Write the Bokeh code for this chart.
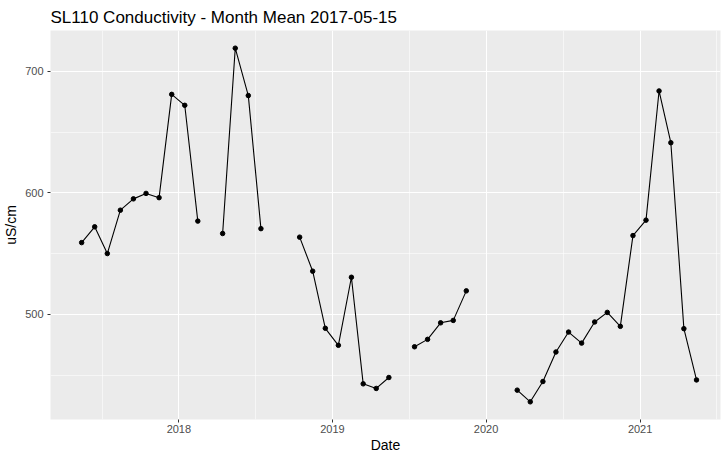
import pandas as pd
from bokeh.plotting import figure
from bokeh.models import ColumnDataSource, FixedTicker, DatetimeTickFormatter, Range1d
from bokeh.embed import file_html
from bokeh.resources import INLINE

# ---- data ----
dates = [
    "2017-05-15", "2017-06-15", "2017-07-15", "2017-08-15", "2017-09-15", "2017-10-15",
    "2017-11-15", "2017-12-15", "2018-01-15", "2018-02-15", "2018-03-15", "2018-04-15",
    "2018-05-15", "2018-06-15", "2018-07-15", "2018-08-15", "2018-09-15", "2018-10-15",
    "2018-11-15", "2018-12-15", "2019-01-15", "2019-02-15", "2019-03-15", "2019-04-15",
    "2019-05-15", "2019-06-15", "2019-07-15", "2019-08-15", "2019-09-15", "2019-10-15",
    "2019-11-15", "2019-12-15", "2020-01-15", "2020-02-15", "2020-03-15", "2020-04-15",
    "2020-05-15", "2020-06-15", "2020-07-15", "2020-08-15", "2020-09-15", "2020-10-15",
    "2020-11-15", "2020-12-15", "2021-01-15", "2021-02-15", "2021-03-15", "2021-04-15",
    "2021-05-15",
]
nan = float("nan")
conductivity = [
    559.0, 572.0, 550.0, 585.7, 595.0, 599.5,
    596.0, 681.0, 672.0, 576.7, nan, 566.5,
    719.0, 680.0, 570.5, nan, nan, 563.5,
    535.5, 488.5, 474.5, 530.5, 442.8, 439.0,
    448.0, nan, 473.3, 479.4, 493.0, 495.0,
    519.3, nan, nan, nan, 437.6, 428.0,
    444.7, 469.0, 485.4, 476.3, 493.7, 501.6,
    490.1, 564.8, 577.5, 683.8, 641.2, 488.2,
    446.0,
]
x_tick_dates = ["2018-01-01", "2019-01-01", "2020-01-01", "2021-01-01"]
x_tick_labels = ["2018", "2019", "2020", "2021"]
y_ticks = [500, 600, 700]
y_minor_ticks = [450, 550, 650]
title_text = "SL110 Conductivity - Month Mean 2017-05-15"
x_label = "Date"
y_label = "uS/cm"

df = pd.DataFrame({"date": pd.to_datetime(dates), "value": conductivity})
src = ColumnDataSource(df)

def ms(s):
    return pd.Timestamp(s).value // 10**6

major_x = [ms(d) for d in x_tick_dates]
step = major_x[1] - major_x[0]
minor_x = [major_x[0] - step / 2] + [(a + b) / 2 for a, b in zip(major_x[:-1], major_x[1:])] + [major_x[-1] + step / 2]

FONT = "Liberation Sans"

p = figure(
    width=721, height=456,
    output_backend="svg", toolbar_location=None,
    x_axis_type="datetime",
    x_range=Range1d(ms("2017-03-02"), ms("2021-07-11")),
    y_range=Range1d(413.45, 733.55),
    title=title_text,
    min_border_left=50, min_border_right=1, min_border_top=30, min_border_bottom=37,
)

p.background_fill_color = "#EBEBEB"
p.border_fill_color = "white"
p.outline_line_color = None

p.title.text_font = FONT
p.title.text_font_size = "17px"
p.title.text_font_style = "normal"
p.title.text_color = "black"
p.title.align = "left"
p.title.standoff = 8

p.xaxis.ticker = FixedTicker(ticks=major_x, minor_ticks=minor_x)
p.xaxis.formatter = DatetimeTickFormatter(
    years="%Y", months="%Y", days="%Y", hours="%Y", hourmin="%Y", minutes="%Y",
    minsec="%Y", seconds="%Y", milliseconds="%Y", microseconds="%Y")
p.yaxis.ticker = FixedTicker(ticks=y_ticks, minor_ticks=y_minor_ticks)

for ax in (p.xaxis[0], p.yaxis[0]):
    ax.axis_line_color = None
    ax.major_tick_line_color = "#333333"
    ax.major_tick_out = 3
    ax.major_tick_in = 0
    ax.minor_tick_out = 0
    ax.minor_tick_in = 0
    ax.minor_tick_line_color = None
    ax.major_label_text_font = FONT
    ax.major_label_text_font_size = "11px"
    ax.major_label_text_color = "#4D4D4D"
    ax.axis_label_text_font = FONT
    ax.axis_label_text_font_size = "14px"
    ax.axis_label_text_font_style = "normal"
    ax.axis_label_text_color = "black"

p.xaxis.major_label_standoff = 2
p.xaxis.axis_label_standoff = 1
p.yaxis.major_label_standoff = 4
p.yaxis.axis_label_standoff = 3

p.xaxis.axis_label = x_label
p.yaxis.axis_label = y_label

for g in (p.xgrid[0], p.ygrid[0]):
    g.grid_line_color = "white"
    g.grid_line_width = 1.1
    g.minor_grid_line_color = "white"
    g.minor_grid_line_width = 0.55

p.line("date", "value", source=src, line_color="black", line_width=1.1)
p.scatter("date", "value", source=src, size=4.5, fill_color="black", line_color="black")

open("out.html", "w").write(file_html(p, INLINE))
